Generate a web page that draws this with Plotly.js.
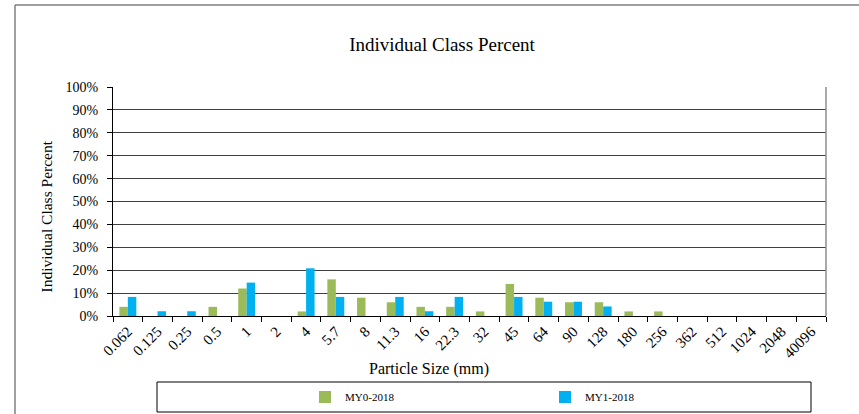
<!DOCTYPE html>
<html>
<head>
<meta charset="utf-8">
<script src="https://cdn.plot.ly/plotly-3.0.1.min.js"></script>
<style>html,body{margin:0;padding:0;background:#fff;overflow:hidden;}#chart{width:859px;height:414px;}</style>
</head>
<body>
<div id="chart"></div>
<script>
const categories = ["0.062","0.125","0.25","0.5","1","2","4","5.7","8","11.3","16","22.3","32","45","64","90","128","180","256","362","512","1024","2048","40096"];
const sizeLabels = ["0.062","0.125","0.25","0.5","1","2","4","5.7","8","11.3","16","22.3","32","45","64","90","128","180","256","362","512","1024","2048","40096"];
const my0 = [4,0,0,4,12,0,2,16,8,6,4,4,2,14,8,6,6,2,2,0,0,0,0,0];
const my1 = [8.33,2.08,2.08,0,14.58,0,20.83,8.33,0,8.33,2.08,8.33,0,8.33,6.25,6.25,4.17,0,0,0,0,0,0,0];
const seriesNames = ["MY0-2018","MY1-2018"];
const tickVals = [0,10,20,30,40,50,60,70,80,90,100];
const tickText = tickVals.map(v => v + "%");

// plot area: left 113, right 826, top 87, bottom 316
const L = 113, R = 826, T = 87, B = 316, W = 859, H = 414;
const px = x => (x - L) / (R - L);
const py = y => (B - y) / (B - T);
const serif = "Liberation Serif, Times New Roman, serif";

const traces = [
  {type: "bar", x: categories, y: my0, name: seriesNames[0], marker: {color: "#9BBB59"}, hoverinfo: "x+y"},
  {type: "bar", x: categories, y: my1, name: seriesNames[1], marker: {color: "#00B0F0"}, hoverinfo: "x+y"}
];

const layout = {
  width: W, height: H,
  margin: {l: L, r: W - R, t: T, b: H - B, pad: 0, autoexpand: false},
  paper_bgcolor: "#fff", plot_bgcolor: "#fff",
  font: {family: serif, color: "#000", size: 13},
  barmode: "group", bargap: 0.43, bargroupgap: 0,
  title: {text: "Individual Class Percent", font: {family: serif, size: 19, color: "#000"},
          xref: "paper", x: px(442), xanchor: "center", yref: "container", y: 1 - 44 / H, yanchor: "middle", automargin: false},
  xaxis: {
    type: "category", tickvals: categories, ticktext: sizeLabels, tickangle: -45,
    tickson: "boundaries", ticks: "outside", ticklen: 5, tickcolor: "#000", tickwidth: 1,
    showline: true, linecolor: "#000", linewidth: 1, showgrid: false, zeroline: false, automargin: false,
    tickfont: {family: serif, size: 15, color: "#000"}, fixedrange: true
  },
  yaxis: {
    range: [0, 100], tickvals: tickVals, ticktext: tickText,
    ticks: "outside", ticklen: 5, tickcolor: "#000", tickwidth: 1, ticklabelstandoff: 6,
    showline: true, linecolor: "#000", linewidth: 1, mirror: false, automargin: false,
    showgrid: true, gridcolor: "#404040", gridwidth: 1, zeroline: false,
    tickfont: {family: serif, size: 14, color: "#000"}, fixedrange: true
  },
  showlegend: true,
  legend: {
    orientation: "h", x: px(305), xanchor: "left", y: py(397), yanchor: "middle",
    entrywidth: 195, entrywidthmode: "pixels",
    font: {family: serif, size: 11, color: "#000"}, bgcolor: "rgba(0,0,0,0)", borderwidth: 0,
    itemclick: false, itemdoubleclick: false
  },
  annotations: [
    {text: "Individual Class Percent", xref: "paper", yref: "paper", x: px(46), y: py(216.5),
     textangle: -90, showarrow: false, xanchor: "center", yanchor: "middle",
     font: {family: serif, size: 15.5, color: "#000"}},
    {text: "Particle Size (mm)", xref: "paper", yref: "paper", x: px(429), y: py(369),
     showarrow: false, xanchor: "center", yanchor: "middle",
     font: {family: serif, size: 16, color: "#000"}}
  ],
  shapes: [
    // right border of plot area
    {type: "line", xref: "paper", yref: "paper", x0: 1, x1: 1, y0: 0, y1: 1, line: {color: "#8c8c8c", width: 1.5}},
    // outer chart border (left and top)
    {type: "line", xref: "paper", yref: "paper", x0: px(15), x1: px(15), y0: py(415), y1: py(5), line: {color: "#7f7f7f", width: 1.5}},
    {type: "line", xref: "paper", yref: "paper", x0: px(15), x1: px(860), y0: py(5), y1: py(5), line: {color: "#7f7f7f", width: 1.5}},
    // legend box
    {type: "rect", xref: "paper", yref: "paper", x0: px(157), x1: px(811), y0: py(412), y1: py(382), line: {color: "#000", width: 1}, fillcolor: "rgba(0,0,0,0)"}
  ]
};

Plotly.newPlot("chart", traces, layout, {displayModeBar: false});
</script>
</body>
</html>
